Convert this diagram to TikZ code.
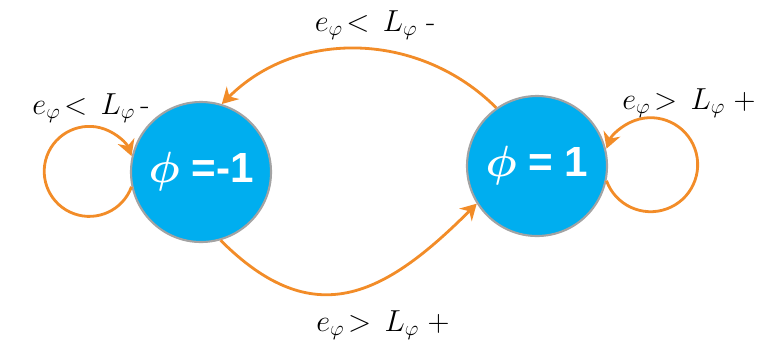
\documentclass[tikz,border=0pt]{standalone}
\usepackage{amsmath}
\usepackage{fontspec}
\newfontfamily\phasefont{Liberation Sans}
\usetikzlibrary{arrows.meta}
\definecolor{phaseblue}{HTML}{00AEEF}
\definecolor{rimgray}{HTML}{A3A3A3}
\definecolor{transorange}{HTML}{F28C28}

\begin{document}
\begin{tikzpicture}[>={Stealth[length=9pt,width=10pt]}, font=\LARGE,
  lab/.style={inner sep=1pt},
  phase/.style={circle, draw=rimgray, line width=1.2pt, fill=phaseblue, text=white,
                minimum size=2.8cm, inner sep=0pt, font=\phasefont\bfseries\fontsize{24}{28}\selectfont},
  trans/.style={->, draw=transorange, line width=1.6pt},
]
  \useasboundingbox (0,0) rectangle (15.36,7);
  \node[phase] (neg) at (4.02,3.56) {{\boldmath$\phi$} =-1};
  \node[phase] (pos) at (10.74,3.68) {{\boldmath$\phi$} = 1};

  % switching between the two phases
  \draw[trans] (pos.125) to[out=135, in=45] (neg.73);
  \draw[trans] (neg.286) to[out=-45, in=-135, looseness=1.3] (pos.212);

  % staying in the same phase
  \draw[trans] (neg.192) arc[start angle=-20, end angle=-340, radius=0.9];
  \draw[trans] (pos.-12) arc[start angle=200, end angle=520, radius=0.94];

  \node[lab] (ltop) at (7.5,6.5) {$e_\varphi\!<\,L_\varphi$\;-};
  \node[lab] (lneg) at (1.82,4.84) {$e_\varphi\!<\,L_\varphi$\,-};
  \node[lab] (lpos) at (13.78,4.94) {$e_\varphi\!>\,L_\varphi\;+$};
  \node[lab] (lbot) at (7.66,0.5) {$e_\varphi\!>\,L_\varphi\;+$};
\end{tikzpicture}
\end{document}
